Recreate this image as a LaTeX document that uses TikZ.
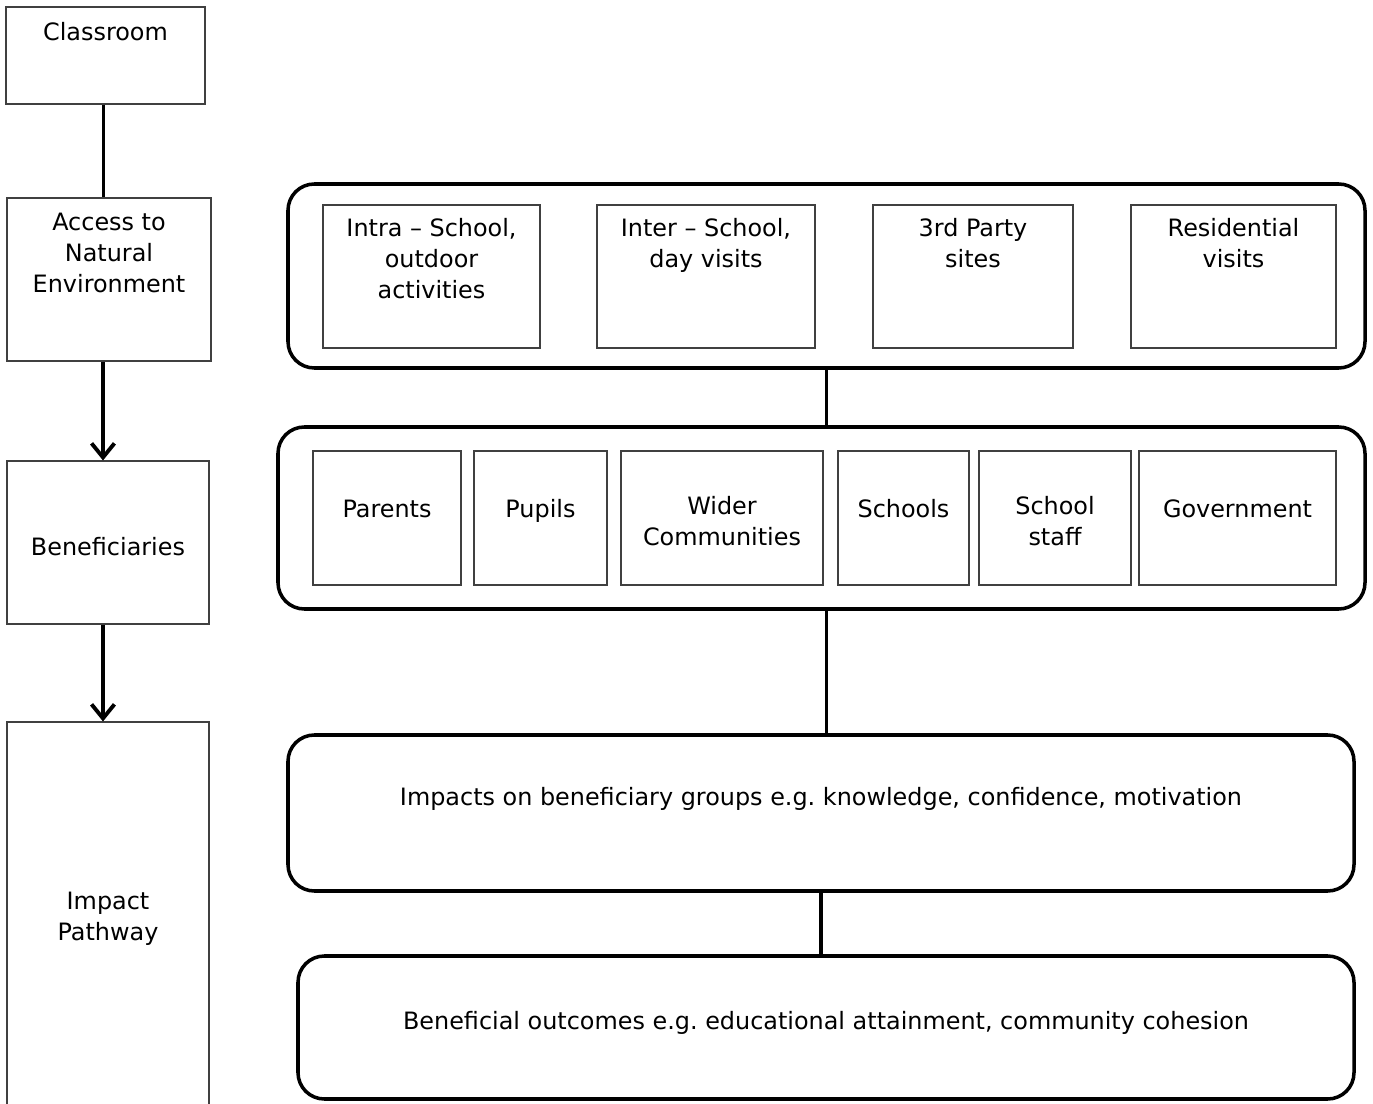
\documentclass[tikz,border=0pt]{standalone}
\usepackage{fontspec}
\setmainfont{DejaVu Sans}
\usetikzlibrary{arrows.meta}

\begin{document}
\frenchspacing
\begin{tikzpicture}[x=0.02cm, y=-0.02cm,
	every node/.style={font=\fontsize{13.6}{17.6}\selectfont, align=center},
	size/.style 2 args={minimum width=#1*0.02cm, minimum height=#2*0.02cm},
	box/.style={draw=black!75, line width=0.6pt, inner sep=0},
	group/.style={draw, line width=2pt, rounded corners=15pt, inner sep=0},
	txt/.style={anchor=north, inner sep=0},
	link/.style={line width=2.2pt},
	arrow/.style={link, -{Straight Barb[length=8pt, width=13pt]}}]
	\useasboundingbox (0,0) rectangle (1373,1104);
	
	% left column
	\node[box, size={199}{97}, label={[txt, yshift=-16*0.02cm]north:Classroom}] (cls) at (105.5,55.5) {};
	\node[box, size={204}{163}, label={[txt, yshift=-15*0.02cm]north:Access to\\Natural\\Environment}] (acc) at (109,279.5) {};
	\node[box, size={202}{163}, label={[txt, yshift=-77*0.02cm]north:Beneficiaries}] (ben) at (108,542.5) {};
	\node[box, size={202}{390}, label={[txt, yshift=-170*0.02cm]north:Impact\\Pathway}] (imp) at (108,917) {};
	
	\draw[link] ([xshift=-2*0.02cm]cls.south) -- ([xshift=-2*0.02cm]cls.south |- acc.north);
	\draw[arrow] ([xshift=-6*0.02cm]acc.south) -- ([xshift=-6*0.02cm]acc.south |- ben.north);
	\draw[arrow] ([xshift=-5*0.02cm]ben.south) -- ([xshift=-5*0.02cm]ben.south |- imp.north);
	
	% settings
	\node[group, size={1077}{184}] (set) at (826.5,276) {};
	\node[box, size={217}{143}, label={[txt, yshift=-14*0.02cm]north:Intra – School,\\outdoor\\activities}] (intra) at (431.5,276.5) {};
	\node[box, size={218}{143}, label={[txt, yshift=-14*0.02cm]north:Inter – School,\\day visits}] (inter) at (706,276.5) {};
	\node[box, size={200}{143}, label={[txt, yshift=-14*0.02cm]north:3rd Party\\sites}] (third) at (973,276.5) {};
	\node[box, size={205}{143}, label={[txt, yshift=-14*0.02cm]north:Residential\\visits}] (resid) at (1233.5,276.5) {};
	
	% beneficiary groups
	\node[group, size={1087}{182}] (grp) at (821.5,518) {};
	\node[box, size={148}{134}, label={[txt, yshift=-49*0.02cm]north:Parents}] (par) at (387,518) {};
	\node[box, size={133}{134}, label={[txt, yshift=-49*0.02cm]north:Pupils}] (pup) at (540.5,518) {};
	\node[box, size={202}{134}, label={[txt, yshift=-46*0.02cm]north:Wider\\Communities}] (wid) at (722,518) {};
	\node[box, size={131}{134}, label={[txt, yshift=-49*0.02cm]north:Schools}] (sch) at (903.5,518) {};
	\node[box, size={152}{134}, label={[txt, yshift=-46*0.02cm]north:School\\staff}] (stf) at (1055,518) {};
	\node[box, size={197}{134}, label={[txt, yshift=-49*0.02cm]north:Government}] (gov) at (1237.5,518) {};
	
	% impacts and outcomes
	\node[group, size={1066}{156}, label={[txt, yshift=-54*0.02cm]north:Impacts on beneficiary groups e.g. knowledge, confidence, motivation}] (impc) at (821,813) {};
	\node[group, size={1056}{143}, label={[txt, yshift=-57*0.02cm]north:Beneficial outcomes e.g. educational attainment, community cohesion}] (outc) at (826,1027.5) {};
	
	\draw[link] (set.south) -- (set.south |- grp.north);
	\draw[link] (set.south |- grp.south) -- (set.south |- impc.north);
	\draw[link] (impc.south) -- (impc.south |- outc.north);
\end{tikzpicture}
\end{document}
